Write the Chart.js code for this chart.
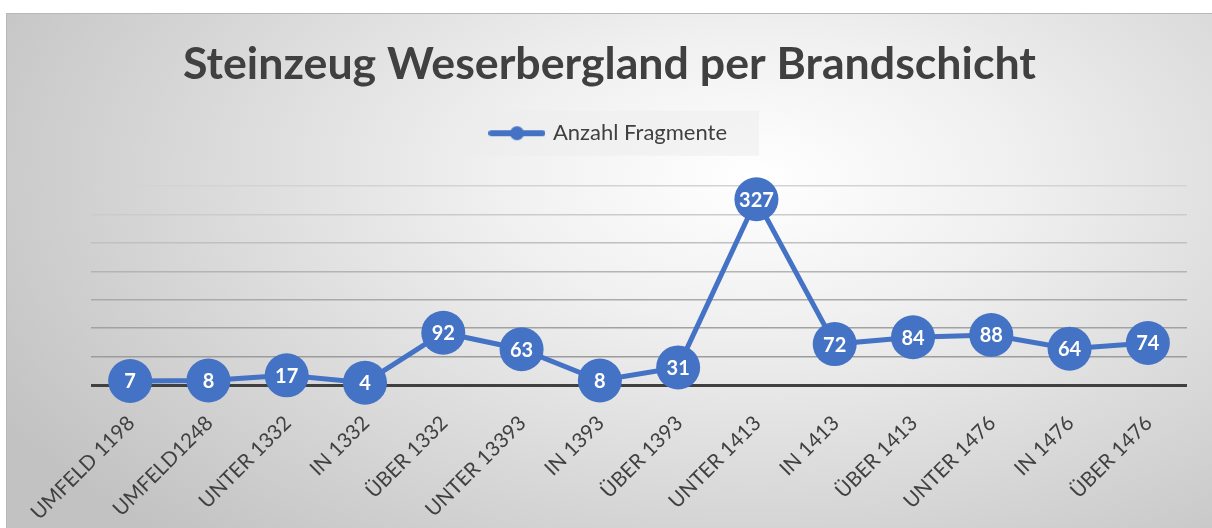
<!DOCTYPE html>
<html>
<head>
<meta charset="utf-8">
<script src="https://cdn.jsdelivr.net/npm/chart.js@4/dist/chart.umd.min.js"></script>
<style>
  html, body { margin: 0; padding: 0; background: #ffffff; width: 1212px; height: 528px; overflow: hidden; }
  #frame {
    position: absolute; left: 6px; top: 13px; width: 1206px; height: 515px;
    box-sizing: border-box; border-top: 1px solid #b8b8b8; border-left: 1px solid #b8b8b8;
    background: radial-gradient(ellipse 72% 95% at 62% 32%, #ffffff 0%, #f0f0f0 30%, #dcdcdc 60%, #c2c2c2 100%);
  }
  canvas { display: block; }
</style>
</head>
<body>
<div id="frame"><canvas id="c" width="1205" height="514"></canvas></div>
<script>
// ---- data ----
const chartTitle = 'Steinzeug Weserbergland per Brandschicht';
const seriesName = 'Anzahl Fragmente';
const categories = ['UMFELD 1198', 'UMFELD1248', 'UNTER 1332', 'IN 1332', 'ÜBER 1332', 'UNTER 13393', 'IN 1393', 'ÜBER 1393', 'UNTER 1413', 'IN 1413', 'ÜBER 1413', 'UNTER 1476', 'IN 1476', 'ÜBER 1476'];
const fragmentCounts = [7, 8, 17, 4, 92, 63, 8, 31, 327, 72, 84, 88, 64, 74];
const yMin = 0;
const yMax = 350;
const yStep = 50;

// ---- styles ----
const blue = '#4472C4';
const textGray = '#404040';
const gridShades = ['#404040', '#9c9c9c', '#a2a2a2', '#aaaaaa', '#b4b4b4', '#c0c0c0', '#cbcbcb', '#d3d3d3'];

// legend marker (line with dot)
const marker = document.createElement('canvas');
marker.width = 57; marker.height = 16;
(function () {
  const m = marker.getContext('2d');
  m.strokeStyle = blue; m.lineWidth = 6; m.lineCap = 'round';
  m.beginPath(); m.moveTo(3, 8); m.lineTo(54, 8); m.stroke();
  m.fillStyle = blue; m.beginPath(); m.arc(28.5, 8, 7, 0, Math.PI * 2); m.fill();
})();

const legendBoxPlugin = {
  id: 'legendBox',
  beforeDraw(chart) {
    const lg = chart.legend;
    if (!lg || !lg.legendHitBoxes || !lg.legendHitBoxes.length) return;
    const hb = lg.legendHitBoxes[0];
    const cy = hb.top + hb.height / 2;
    const ctx = chart.ctx;
    ctx.save();
    ctx.fillStyle = 'rgba(236,236,236,0.55)';
    ctx.fillRect(hb.left - 30, cy - 22.5, hb.width + 62, 45);
    ctx.restore();
  }
};

const dataLabelPlugin = {
  id: 'dataLabels',
  afterDatasetsDraw(chart) {
    const ctx = chart.ctx;
    const meta = chart.getDatasetMeta(0);
    const values = chart.data.datasets[0].data;
    ctx.save();
    ctx.fillStyle = '#ffffff';
    ctx.font = 'bold 20px Lato';
    ctx.textAlign = 'center';
    ctx.textBaseline = 'middle';
    meta.data.forEach((pt, i) => {
      ctx.fillText(String(values[i]), pt.x, pt.y + 1);
    });
    ctx.restore();
  }
};

new Chart(document.getElementById('c'), {
  type: 'line',
  data: {
    labels: categories,
    datasets: [{
      label: seriesName,
      data: fragmentCounts,
      xAxisID: 'x',
      yAxisID: 'y',
      borderColor: blue,
      backgroundColor: blue,
      borderWidth: 5,
      pointRadius: 22,
      pointHoverRadius: 22,
      pointBackgroundColor: blue,
      pointBorderWidth: 0,
      tension: 0,
      clip: false
    }]
  },
  options: {
    responsive: false,
    animation: false,
    events: [],
    layout: { padding: { left: 25, right: 25, top: 0, bottom: 0 } },
    plugins: {
      title: {
        display: true,
        text: chartTitle,
        color: textGray,
        font: { family: 'Lato', size: 44.7, weight: 'bold', lineHeight: 0.7 },
        padding: { top: 35.4, bottom: 0 }
      },
      legend: {
        display: true,
        position: 'top',
        labels: {
          color: textGray,
          font: { family: 'Lato', size: 22 },
          usePointStyle: true,
          pointStyle: marker,
          pointStyleWidth: 50,
          padding: 41.5
        }
      },
      tooltip: { enabled: false }
    },
    scales: {
      x: {
        type: 'category',
        position: 'bottom',
        offset: true,
        grid: { display: false, offset: true },
        border: { display: false },
        ticks: {
          color: textGray,
          font: { family: 'Lato', size: 20.5 },
          maxRotation: 45,
          minRotation: 45,
          autoSkip: false,
          padding: 18,
          labelOffset: 1
        },
        afterFit(s) { s.height = 143; s.paddingLeft = 0; s.paddingRight = 0; }
      },
      xTop: {
        type: 'category',
        axis: 'x',
        position: 'top',
        offset: true,
        labels: categories,
        grid: { display: false },
        border: { display: false },
        ticks: { display: false },
        afterFit(s) { s.height = 32; s.paddingLeft = 0; s.paddingRight = 0; }
      },
      y: {
        min: yMin,
        max: yMax,
        ticks: { display: false, stepSize: yStep },
        border: { display: false },
        grid: {
          drawTicks: false,
          color: (c) => gridShades[Math.round(c.tick.value / yStep)] || '#cccccc',
          lineWidth: (c) => (c.tick.value === 0 ? 3 : 1.5)
        },
        afterFit(s) { s.width = 59; s.paddingTop = 0; s.paddingBottom = 0; }
      }
    }
  },
  plugins: [legendBoxPlugin, dataLabelPlugin]
});
</script>
</body>
</html>
